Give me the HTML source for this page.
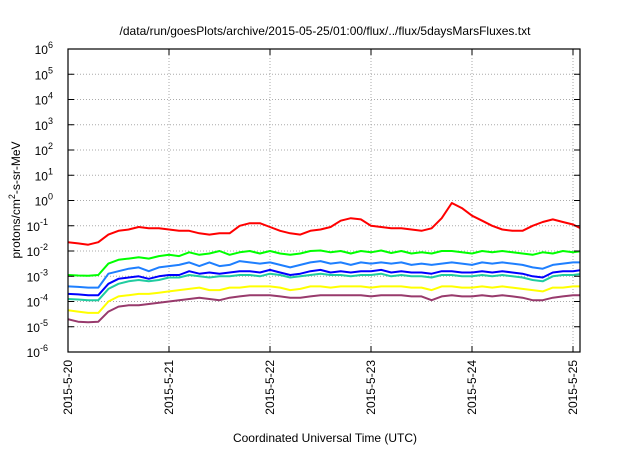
<!DOCTYPE html>
<html><head><meta charset="utf-8"><style>
body{margin:0;background:#fff;}
svg text{font-family:"Liberation Sans",sans-serif;fill:#000;}
</style></head><body>
<svg id="chart" width="640" height="448">
<text x="325" y="35" text-anchor="middle" font-size="12">/data/run/goesPlots/archive/2015-05-25/01:00/flux/../flux/5daysMarsFluxes.txt</text>
<text transform="translate(20,200) rotate(-90)" text-anchor="middle" font-size="12">protons/cm<tspan dy="-5" font-size="9">2</tspan><tspan dy="5">-s-sr-MeV</tspan></text>
<text x="325" y="442" text-anchor="middle" font-size="12">Coordinated Universal Time (UTC)</text>
<g id="grid"></g><g id="series"></g><g id="axes"></g>
</svg>
<script>
const xTickLabels=["2015-5-20","2015-5-21","2015-5-22","2015-5-23","2015-5-24","2015-5-25"];
const yTickExps=[-6,-5,-4,-3,-2,-1,0,1,2,3,4,5,6];
const seriesNames=["red","green","lightblue","blue","teal","yellow","purple"];
const seriesColors=["#ff0000","#00ff00","#1e7fff","#0000ff","#20cca0","#ffff00","#983a6c"];
const timeStepDays=0.1;
const red=[-1.65,-1.7,-1.75,-1.65,-1.35,-1.2,-1.15,-1.05,-1.1,-1.1,-1.15,-1.2,-1.2,-1.3,-1.35,-1.3,-1.3,-1.0,-0.9,-0.9,-1.05,-1.2,-1.3,-1.35,-1.2,-1.15,-1.05,-0.8,-0.7,-0.75,-1.0,-1.05,-1.1,-1.1,-1.15,-1.2,-1.1,-0.7,-0.1,-0.3,-0.6,-0.8,-1.0,-1.15,-1.2,-1.2,-1.0,-0.85,-0.75,-0.85,-0.95,-1.15];
const green=[-2.95,-2.97,-2.98,-2.95,-2.5,-2.35,-2.3,-2.25,-2.3,-2.2,-2.15,-2.2,-2.05,-2.15,-2.1,-2.0,-2.15,-2.05,-2.0,-2.1,-2.0,-2.1,-2.15,-2.1,-2.0,-1.98,-2.05,-2.0,-2.1,-2.0,-2.05,-1.98,-2.08,-2.0,-2.1,-2.05,-2.1,-2.0,-2.0,-2.05,-2.1,-2.0,-2.05,-2.0,-2.05,-2.1,-2.15,-2.05,-2.1,-2.0,-2.05,-2.0];
const lightblue=[-3.4,-3.42,-3.45,-3.45,-2.9,-2.8,-2.7,-2.65,-2.8,-2.65,-2.6,-2.55,-2.45,-2.6,-2.45,-2.6,-2.55,-2.4,-2.45,-2.5,-2.45,-2.55,-2.65,-2.55,-2.45,-2.4,-2.5,-2.45,-2.55,-2.45,-2.5,-2.45,-2.5,-2.45,-2.55,-2.5,-2.55,-2.5,-2.45,-2.5,-2.55,-2.45,-2.5,-2.45,-2.5,-2.55,-2.65,-2.7,-2.55,-2.5,-2.45,-2.45];
const blue=[-3.7,-3.72,-3.75,-3.75,-3.3,-3.1,-3.05,-3.0,-3.1,-3.0,-2.95,-2.95,-2.8,-2.9,-2.85,-2.9,-2.85,-2.8,-2.8,-2.85,-2.75,-2.85,-2.95,-2.9,-2.8,-2.75,-2.85,-2.8,-2.85,-2.8,-2.8,-2.75,-2.85,-2.8,-2.85,-2.85,-2.9,-2.8,-2.8,-2.85,-2.85,-2.8,-2.85,-2.8,-2.85,-2.9,-3.0,-3.05,-2.85,-2.8,-2.8,-2.75];
const teal=[-3.9,-3.92,-3.95,-3.95,-3.5,-3.3,-3.2,-3.15,-3.2,-3.15,-3.05,-3.05,-2.95,-3.0,-3.05,-3.0,-3.0,-2.95,-2.95,-3.0,-2.9,-2.95,-3.05,-3.0,-2.95,-2.9,-2.95,-2.95,-3.0,-2.95,-2.95,-2.9,-3.0,-2.95,-3.0,-3.0,-3.05,-2.95,-2.95,-3.0,-3.0,-2.95,-3.0,-2.95,-3.0,-3.05,-3.15,-3.2,-3.0,-2.95,-2.95,-2.9];
const yellow=[-4.35,-4.4,-4.45,-4.45,-4.0,-3.8,-3.75,-3.7,-3.7,-3.65,-3.6,-3.55,-3.5,-3.45,-3.55,-3.55,-3.45,-3.45,-3.4,-3.4,-3.4,-3.45,-3.55,-3.5,-3.4,-3.4,-3.45,-3.4,-3.4,-3.4,-3.45,-3.4,-3.4,-3.4,-3.45,-3.45,-3.55,-3.4,-3.4,-3.45,-3.45,-3.4,-3.45,-3.4,-3.45,-3.5,-3.55,-3.6,-3.45,-3.45,-3.4,-3.4];
const purple=[-4.7,-4.8,-4.82,-4.8,-4.4,-4.2,-4.15,-4.15,-4.1,-4.05,-4.0,-3.95,-3.9,-3.85,-3.9,-3.95,-3.85,-3.8,-3.75,-3.75,-3.75,-3.8,-3.85,-3.85,-3.8,-3.75,-3.75,-3.75,-3.75,-3.75,-3.8,-3.75,-3.75,-3.75,-3.8,-3.8,-3.95,-3.8,-3.75,-3.8,-3.8,-3.75,-3.8,-3.75,-3.8,-3.85,-3.95,-3.95,-3.85,-3.8,-3.75,-3.75];
const allSeries=[red,green,lightblue,blue,teal,yellow,purple];

const L=68,R=580,T=49,B=352,dayW=101,XMAX=(R-L)/dayW;
const NS="http://www.w3.org/2000/svg";
function xs(d){return L+d*dayW;}
function ys(e){return B-(e+6)*(B-T)/12;}
function mk(tag,attrs,parent){const el=document.createElementNS(NS,tag);for(const k in attrs)el.setAttribute(k,attrs[k]);parent.appendChild(el);return el;}
const grid=document.getElementById('grid'),axes=document.getElementById('axes'),ser=document.getElementById('series');
const clip=mk('clipPath',{id:'pc'},document.getElementById('chart'));
mk('rect',{x:L,y:T,width:R-L,height:B-T},clip);
yTickExps.forEach(e=>{
  const y=ys(e);
  if(e>-6&&e<6){const g=mk('line',{x1:L,x2:R,y1:y,y2:y,stroke:'#aaa','stroke-dasharray':'1,2'},grid);
  
  }
  mk('line',{x1:L,x2:L+6,y1:y,y2:y,stroke:'#000'},axes);
  mk('line',{x1:R-6,x2:R,y1:y,y2:y,stroke:'#000'},axes);
  const t=mk('text',{x:58,y:y+5,'text-anchor':'end','font-size':'12'},axes);
  
  
  t.innerHTML='10<tspan dy="-6" font-size="9">'+e+'</tspan>';
  t.setAttribute('x',String(58-(String(e).length*5)));
});
xTickLabels.forEach((lab,i)=>{
  const x=xs(i);
  if(i>0){const g=mk('line',{x1:x,x2:x,y1:T,y2:B,stroke:'#aaa','stroke-dasharray':'1,2'},grid);
  
  }
  mk('line',{x1:x,x2:x,y1:B-6,y2:B,stroke:'#000'},axes);
  mk('line',{x1:x,x2:x,y1:T,y2:T+6,stroke:'#000'},axes);
  const t=mk('text',{transform:'translate('+(x+4)+','+(B+8)+') rotate(-90)','text-anchor':'end','font-size':'12'},axes);
  t.textContent=lab;
  
  
});
const fr=mk('rect',{x:L,y:T,width:R-L,height:B-T,fill:'none',stroke:'#000','stroke-width':'1.2'},axes);


allSeries.forEach((arr,si)=>{
  const pts=arr.map((v,i)=>xs(Math.min(i*timeStepDays,XMAX+0.05)).toFixed(1)+','+ys(v).toFixed(1)).join(' ');
  const p=mk('polyline',{points:pts,fill:'none',stroke:seriesColors[si],'stroke-width':'2','stroke-linejoin':'round','clip-path':'url(#pc)'},ser);
  
  
});
</script>
</body></html>
